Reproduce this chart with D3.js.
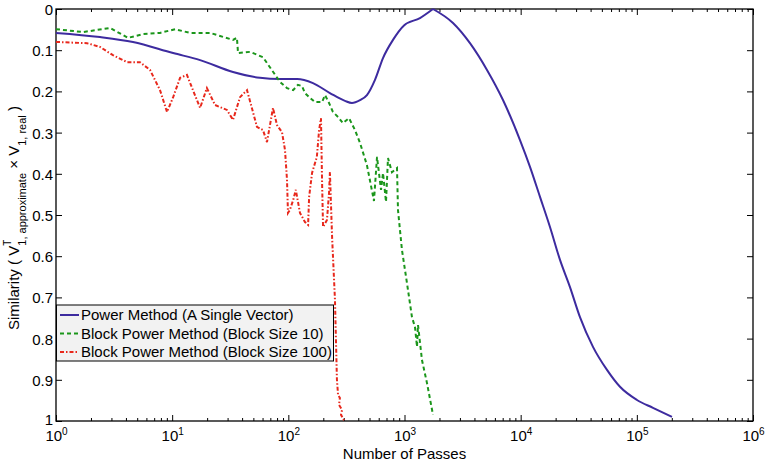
<!DOCTYPE html>
<html>
<head>
<meta charset="utf-8">
<script src="https://cdn.jsdelivr.net/npm/d3@7"></script>
<style>
  body { margin: 0; background: #fff; }
  svg { font-family: "Liberation Sans", Arial, sans-serif; }
</style>
</head>
<body>
<svg id="chart" width="765" height="463"></svg>
<script>
// values (passes on log axis, similarity 0..1 reversed)
const powerPasses = [1, 2.39, 4.6, 10.2, 17.4, 33.4, 57, 84.8, 119, 163, 228, 307, 353, 414, 475, 557, 653, 796, 990, 1359, 1759,
  2615, 3662, 5130, 7043, 9867, 12030, 14670, 17880, 21810, 26580, 32400, 41930, 55360, 71610, 100300, 137700, 200700];
const powerSim = [0.058, 0.068, 0.080, 0.107, 0.124, 0.153, 0.167, 0.170, 0.170, 0.180, 0.204, 0.223, 0.228, 0.221, 0.209, 0.172, 0.119, 0.075, 0.040, 0.022, 0.0,
  0.034, 0.083, 0.148, 0.221, 0.318, 0.383, 0.456, 0.529, 0.609, 0.675, 0.748, 0.820, 0.876, 0.917, 0.949, 0.968, 0.990];

const block10Passes = [1, 1.71, 2.92, 4.17, 5.61, 7.86, 10.6, 14.2, 21.2, 33.4, 36.1, 36.9, 46.8, 60.5, 84.8, 97.4, 110, 121, 131, 139,
  154, 170, 195, 207, 224, 242, 268, 295, 333, 375, 414, 475, 546, 580, 628, 653, 693, 721, 780, 862,
  879, 951, 1050, 1160, 1231, 1281, 1307, 1414, 1562, 1759];
const block10Sim = [0.049, 0.056, 0.046, 0.070, 0.061, 0.058, 0.049, 0.058, 0.058, 0.075, 0.070, 0.107, 0.104, 0.117, 0.177, 0.192, 0.197, 0.184, 0.187, 0.204,
  0.216, 0.226, 0.226, 0.209, 0.228, 0.250, 0.262, 0.277, 0.265, 0.294, 0.325, 0.379, 0.466, 0.359, 0.439, 0.398, 0.468, 0.362, 0.396, 0.386,
  0.488, 0.585, 0.665, 0.748, 0.772, 0.820, 0.767, 0.852, 0.908, 0.985];

const block100Passes = [1, 1.85, 2.39, 3.09, 4.09, 5.28, 6.45, 7.86, 9.03, 10.2, 11.7, 13.4, 15.1, 17.4, 19.9, 23.4, 29.6, 33.4, 38.4, 44.1,
  53.7, 60.5, 65.5, 73.8, 79.9, 88.2, 93.6, 97.4, 99.3, 103, 110, 116, 126, 139, 148, 151, 160, 176, 184, 191,
  195, 199, 215, 224, 228, 238, 252, 262, 268, 278, 273, 290, 284, 301];
const block100Sim = [0.080, 0.083, 0.092, 0.112, 0.129, 0.129, 0.148, 0.197, 0.250, 0.214, 0.167, 0.160, 0.197, 0.240, 0.192, 0.233, 0.245, 0.269, 0.214, 0.197,
  0.286, 0.294, 0.323, 0.240, 0.282, 0.299, 0.342, 0.415, 0.495, 0.488, 0.464, 0.439, 0.495, 0.517, 0.524, 0.456, 0.398, 0.359, 0.294, 0.265,
  0.415, 0.529, 0.512, 0.447, 0.396, 0.553, 0.706, 0.900, 0.937, 0.944, 0.961, 0.973, 0.985, 0.998];

const xTickExps = [0, 1, 2, 3, 4, 5, 6];
const yTicks = [0, 0.1, 0.2, 0.3, 0.4, 0.5, 0.6, 0.7, 0.8, 0.9, 1];
const seriesNames = ["Power Method (A Single Vector)", "Block Power Method (Block Size 10)", "Block Power Method (Block Size 100)"];

const margin = {top: 9, right: 12, bottom: 42, left: 56};
const width = 765 - margin.left - margin.right;
const height = 463 - margin.top - margin.bottom;

const svg = d3.select("#chart");
const chart = svg.append("g").attr("transform", `translate(${margin.left},${margin.top})`);

const x = d3.scaleLog().domain([1, 1e6]).range([0, width]);
const y = d3.scaleLinear().domain([0, 1]).range([0, height]);

// minor ticks for the log axis
let minors = [];
xTickExps.slice(0, -1).forEach(e => { for (let k = 2; k < 10; k++) minors.push(k * Math.pow(10, e)); });
const majors = xTickExps.map(e => Math.pow(10, e));

function styleAxis(g) {
  g.select(".domain").remove();
  g.selectAll("line").attr("stroke", "#000").attr("stroke-width", 1);
}

// bottom
chart.append("g").attr("transform", `translate(0,${height})`)
  .call(d3.axisBottom(x).tickValues(minors).tickSize(-3).tickFormat("")).call(styleAxis);
const xb = chart.append("g").attr("transform", `translate(0,${height})`)
  .call(d3.axisBottom(x).tickValues(majors).tickSize(-6).tickFormat("")).call(styleAxis);
xb.selectAll(".tick").each(function(d, i) {
  const t = d3.select(this).append("text")
    .attr("y", 20).attr("fill", "#000").attr("font-size", 15).attr("text-anchor", "middle");
  t.append("tspan").text("10");
  t.append("tspan").attr("dy", -6).attr("font-size", 10).text(xTickExps[i]);
});
// top
chart.append("g").call(d3.axisTop(x).tickValues(minors).tickSize(-3).tickFormat("")).call(styleAxis);
chart.append("g").call(d3.axisTop(x).tickValues(majors).tickSize(-6).tickFormat("")).call(styleAxis);

// left / right
const yl = chart.append("g")
  .call(d3.axisLeft(y).tickValues(yTicks).tickSize(-6).tickPadding(3).tickFormat(d => d3.format("")(d)))
  .call(styleAxis);
yl.selectAll("text").attr("font-size", 15).attr("fill", "#000").attr("font-family", null).attr("dy", "0.36em");
// the bottom "1" sits just above the 10^0 label
yl.selectAll(".tick").filter(d => d === 1).select("text").attr("dy", "0.2em");
chart.append("g").attr("transform", `translate(${width},0)`)
  .call(d3.axisRight(y).tickValues(yTicks).tickSize(-6).tickFormat("")).call(styleAxis);

// frame
chart.append("rect").attr("width", width).attr("height", height)
  .attr("fill", "none").attr("stroke", "#000").attr("stroke-width", 1.3);

// series
const series = [
  {px: powerPasses, sy: powerSim, color: "#3d2b9f", dash: null, curve: d3.curveMonotoneX},
  {px: block10Passes, sy: block10Sim, color: "#1b961b", dash: "4,3", curve: d3.curveLinear},
  {px: block100Passes, sy: block100Sim, color: "#e8281c", dash: "4,2,1.5,2", curve: d3.curveLinear}
];

const plot = chart.append("g");
series.forEach((s, si) => {
  const pts = s.px.map((p, i) => [p, s.sy[i]]);
  const line = d3.line().x(d => x(d[0])).y(d => y(d[1])).curve(s.curve);
  // the single-vector curve has a sharp top: smooth each side of the peak separately
  let pieces = [pts];
  if (si === 0) {
    const k = d3.minIndex(s.sy);
    pieces = [pts.slice(0, k + 1), pts.slice(k)];
  }
  plot.append("path")
    .attr("d", pieces.map(p => line(p)).join(""))
    .attr("fill", "none")
    .attr("stroke", s.color)
    .attr("stroke-width", 2)
    .attr("stroke-dasharray", s.dash);
});

// legend
const legend = chart.append("g").attr("transform", `translate(0,${296})`);
legend.append("rect").attr("x", 0.5).attr("y", 0).attr("width", 277).attr("height", 56)
  .attr("fill", "#f2f2f2").attr("stroke", "#000").attr("stroke-width", 1);
seriesNames.forEach((name, i) => {
  const ly = 10 + i * 18.5;
  legend.append("line").attr("x1", 4).attr("x2", 23).attr("y1", ly).attr("y2", ly)
    .attr("stroke", series[i].color).attr("stroke-width", 2).attr("stroke-dasharray", series[i].dash);
  legend.append("text").attr("x", 25).attr("y", ly + 5).attr("font-size", 15).attr("fill", "#000").text(name);
});

// axis titles
chart.append("text").attr("x", width / 2).attr("y", height + 38)
  .attr("text-anchor", "middle").attr("font-size", 15).text("Number of Passes");

// y title with TeX-like super/subscripts
const yt = svg.append("text")
  .attr("transform", "translate(19,0) rotate(-90)")
  .attr("x", -330).attr("y", 0)
  .attr("font-size", 15).attr("fill", "#000");
yt.append("tspan").text("Similarity ( V");
yt.append("tspan").attr("dy", -8).attr("font-size", 10).text("T");
yt.append("tspan").attr("dy", 15).attr("dx", -6).attr("font-size", 11).text("1, approximate");
yt.append("tspan").attr("dy", -7).text(" \u00d7 V");
yt.append("tspan").attr("dy", 7).attr("font-size", 11).text("1, real");
yt.append("tspan").attr("dy", -7).text(" )");
</script>
</body>
</html>
